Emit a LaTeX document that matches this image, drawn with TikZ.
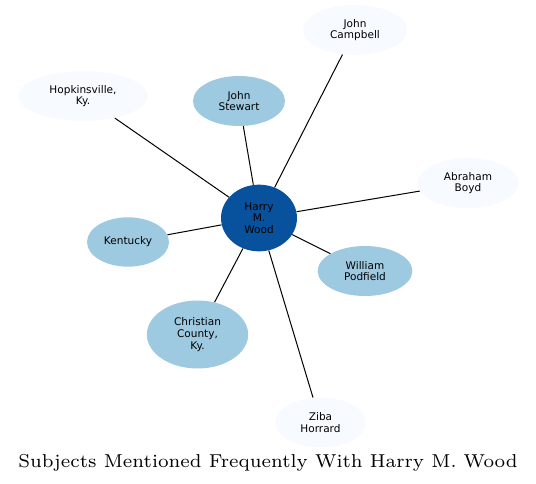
\documentclass[tikz,border=0pt]{standalone}
\usepackage{fontspec}
\setmainfont{Latin Modern Roman}
\newfontfamily\nodefont{DejaVu Sans}
\newfontfamily\titlefont{lmroman7-regular.otf}
\usetikzlibrary{shapes.geometric}
\definecolor{hubblue}{HTML}{08519C}
\definecolor{midblue}{HTML}{9ECAE1}
\definecolor{paleblue}{HTML}{F7FBFF}
\tikzset{
  ent/.style={ellipse, inner sep=0pt, align=center, text=black,
    font=\nodefont\fontsize{7.9}{8.8}\selectfont},
  hub/.style={ent, fill=hubblue},
  mid/.style={ent, fill=midblue},
  pale/.style={ent, fill=paleblue},
  link/.style={draw=black, line width=0.75pt},
}
\begin{document}
\begin{tikzpicture}[x=0.75pt,y=-0.75pt]
\useasboundingbox (0,0) rectangle (536,483);
\node[hub, minimum width=57pt, minimum height=50pt] (harry) at (259,218) {Harry\\M.\\Wood};
\node[pale, minimum width=78pt, minimum height=37.5pt] (campbell) at (355,30) {John\\Campbell};
\node[pale, minimum width=97pt, minimum height=37.5pt] (hopkins) at (83,96) {Hopkinsville,\\Ky.};
\node[mid, minimum width=69pt, minimum height=37.5pt] (stewart) at (239,101) {John\\Stewart};
\node[pale, minimum width=76pt, minimum height=37.5pt] (boyd) at (468,183) {Abraham\\Boyd};
\node[mid, minimum width=61.5pt, minimum height=37pt] (kentucky) at (128,242) {Kentucky};
\node[mid, minimum width=71pt, minimum height=37.5pt] (podfield) at (365,271) {William\\Podfield};
\node[mid, minimum width=76pt, minimum height=51pt] (christian) at (197.5,334.5) {Christian\\County,\\Ky.};
\node[pale, minimum width=68pt, minimum height=37.5pt] (ziba) at (320.5,422.5) {Ziba\\Horrard};
\node[font=\titlefont\fontsize{14}{17}\selectfont, anchor=base] (title) at (268,467) {Subjects Mentioned Frequently With Harry M. Wood};
\draw[link] (harry) -- (campbell);
\draw[link] (harry) -- (hopkins);
\draw[link] (harry) -- (stewart);
\draw[link] (harry) -- (boyd);
\draw[link] (harry) -- (kentucky);
\draw[link] (harry) -- (podfield);
\draw[link] (harry) -- (christian);
\draw[link] (harry) -- (ziba);
\end{tikzpicture}
\end{document}
